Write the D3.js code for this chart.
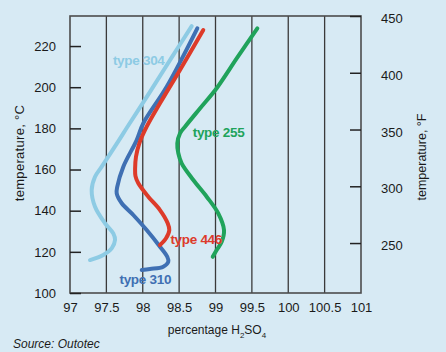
<!DOCTYPE html>
<html>
<head>
<meta charset="utf-8">
<script src="https://cdn.jsdelivr.net/npm/d3@7"></script>
<style>
  body { margin: 0; background: #d7eaf4; }
  text { font-family: "Liberation Sans", Arial, sans-serif; }
</style>
</head>
<body>
<div id="chart"></div>
<script>
// Curves: [percentage H2SO4, temperature °C]
var type304 = [[98.673,229.7],[98.390,214.0],[98.108,198.2],[97.790,180.8],[97.674,174.3],[97.436,161.4],
  [97.344,156.5],[97.298,150.0],[97.344,141.9],[97.481,133.9],[97.595,129.0],[97.619,125.8],
  [97.573,121.7],[97.458,118.5],[97.275,116.0]];
var type310 = [[98.750,228.6],[98.329,200.2],[98.008,182.5],[97.917,174.3],[97.733,161.4],
  [97.650,151.7],[97.642,148.4],[97.711,143.6],[97.870,137.9],[98.054,130.6],[98.237,122.5],
  [98.337,117.6],[98.351,115.2],[98.282,112.8],[98.100,111.7],[97.986,111.2]];
var type446 = [[98.832,227.8],[98.512,208.4],[98.237,192.2],[98.054,180.8],[97.953,172.7],[97.907,166.2],
  [97.895,160.5],[97.900,156.8],[97.939,153.3],[98.076,146.8],[98.237,140.3],[98.343,133.9],[98.365,130.6],
  [98.320,126.6],[98.237,123.3]];
var type255 = [[99.575,228.6],[99.296,214.2],[99.016,199.5],[98.792,189.9],[98.581,180.8],[98.512,177.6],
  [98.475,172.7],[98.489,167.9],[98.535,163.0],[98.695,154.9],[98.879,146.8],[99.038,138.7],
  [99.117,130.6],[99.085,124.9],[99.016,120.9],[98.962,117.6]];

var xTicks = [97, 97.5, 98, 98.5, 99, 99.5, 100, 100.5, 101];
var cTicks = [100, 120, 140, 160, 180, 200, 220];
var fTicks = [250, 300, 350, 400, 450];

var series = [
  {name: "type 304", values: type304, color: "#8dcbe4", lx: 97.59, ly: 212.9},
  {name: "type 310", values: type310, color: "#3f70b3", lx: 97.68, ly: 106.7},
  {name: "type 446", values: type446, color: "#dd3b2a", lx: 98.38, ly: 126.1},
  {name: "type 255", values: type255, color: "#20a35b", lx: 98.687, ly: 177.9}
];

var margin = {top: 16, right: 85, bottom: 59, left: 70},
    width = 446 - margin.left - margin.right,
    height = 352 - margin.top - margin.bottom;

var svg = d3.select("#chart")
  .append("svg")
    .attr("width", 446)
    .attr("height", 352)
    .style("display", "block")
    .style("background-color", "#d7eaf4")
  .append("g")
    .attr("transform", "translate(" + margin.left + "," + margin.top + ")");

var x = d3.scaleLinear().domain([97, 101]).range([0, width]);
var y = d3.scaleLinear().domain([100, 234.6]).range([height, 0]);
var yF = d3.scaleLinear().domain([206, 450]).range([height, 0]);

// vertical grid lines
svg.selectAll(".grid")
  .data(xTicks.slice(1, -1))
  .enter().append("line")
    .attr("x1", function(d) { return x(d); })
    .attr("x2", function(d) { return x(d); })
    .attr("y1", 0)
    .attr("y2", height)
    .attr("stroke", "#3a3a3a")
    .attr("stroke-width", 1.3);

// frame
svg.append("rect")
  .attr("width", width)
  .attr("height", height)
  .attr("fill", "none")
  .attr("stroke", "#4d4d4d")
  .attr("stroke-width", 1.6);

// left axis (ticks inside)
var left = svg.append("g")
  .call(d3.axisLeft(y).tickValues(cTicks).tickSize(-11).tickPadding(14));
left.select(".domain").remove();
left.selectAll("line").attr("stroke", "#222").attr("stroke-width", 1.5);
left.selectAll("text").attr("font-size", "13px").attr("fill", "#1a1a1a");

// right axis (°F)
var right = svg.append("g")
  .attr("transform", "translate(" + width + ",0)")
  .call(d3.axisRight(yF).tickValues(fTicks).tickSize(-11).tickPadding(20));
right.select(".domain").remove();
right.selectAll("line").attr("stroke", "#222").attr("stroke-width", 1.5);
right.selectAll("text").attr("font-size", "13px").attr("fill", "#1a1a1a").attr("dy", "0.5em");

// bottom axis
var bottom = svg.append("g")
  .attr("transform", "translate(0," + height + ")")
  .call(d3.axisBottom(x).tickValues(xTicks).tickSize(0).tickPadding(10)
    .tickFormat(function(d) { return d; }));
bottom.select(".domain").remove();
bottom.selectAll("text").attr("font-size", "13px").attr("fill", "#1a1a1a");

// curves
var line = d3.line()
  .x(function(d) { return x(d[0]); })
  .y(function(d) { return y(d[1]); })
  .curve(d3.curveCatmullRom.alpha(0.5));

svg.selectAll(".curve")
  .data(series)
  .enter().append("path")
    .attr("fill", "none")
    .attr("stroke", function(d) { return d.color; })
    .attr("stroke-width", 4)
    .attr("stroke-linecap", "round")
    .attr("d", function(d) { return line(d.values); });

// curve labels
svg.selectAll(".lbl")
  .data(series)
  .enter().append("text")
    .attr("x", function(d) { return x(d.lx); })
    .attr("y", function(d) { return y(d.ly); })
    .attr("dy", "0.35em")
    .attr("fill", function(d) { return d.color; })
    .attr("font-size", "13.5px")
    .attr("font-weight", "bold")
    .attr("letter-spacing", "-0.3px")
    .text(function(d) { return d.name; });

// axis titles
svg.append("text")
  .attr("transform", "rotate(-90)")
  .attr("x", -137)
  .attr("y", -46)
  .attr("text-anchor", "middle")
  .attr("font-size", "13px")
  .attr("letter-spacing", "0.3px")
  .attr("fill", "#1a1a1a")
  .text("temperature, °C");

svg.append("text")
  .attr("transform", "rotate(-90)")
  .attr("x", -141)
  .attr("y", width + 65)
  .attr("text-anchor", "middle")
  .attr("font-size", "12.5px")
  .attr("fill", "#1a1a1a")
  .text("temperature, °F");

var xt = svg.append("text")
  .attr("x", 147)
  .attr("y", height + 41)
  .attr("text-anchor", "middle")
  .attr("font-size", "12px")
  .attr("fill", "#1a1a1a");
xt.append("tspan").text("percentage H");
xt.append("tspan").attr("font-size", "8px").attr("dy", 4).text("2");
xt.append("tspan").attr("dy", -4).text("SO");
xt.append("tspan").attr("font-size", "8px").attr("dy", 4).text("4");

svg.append("text")
  .attr("x", 13 - margin.left)
  .attr("y", 348 - margin.top)
  .attr("font-size", "12px")
  .attr("font-style", "italic")
  .attr("fill", "#1a1a1a")
  .text("Source: Outotec");
</script>
</body>
</html>
